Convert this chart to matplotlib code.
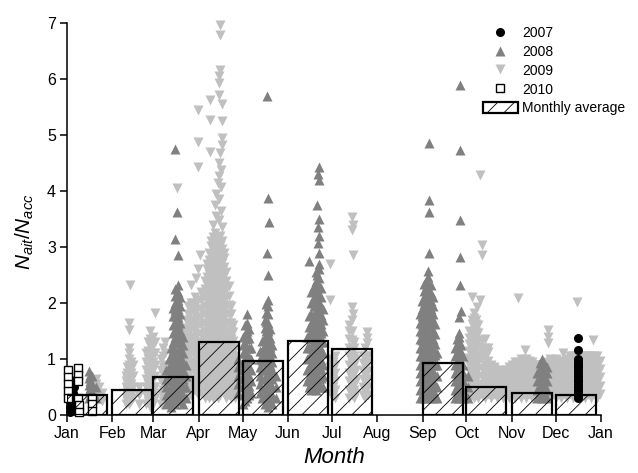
import matplotlib
matplotlib.use("Agg")
import matplotlib.pyplot as plt
from matplotlib.lines import Line2D
from matplotlib.patches import Patch

plt.rcParams['font.family'] = ['Liberation Sans', 'DejaVu Sans']
plt.rcParams['mathtext.fontset'] = 'custom'
plt.rcParams['mathtext.rm'] = 'Liberation Sans'
plt.rcParams['mathtext.it'] = 'Liberation Sans:italic'
plt.rcParams['hatch.linewidth'] = 0.6

# ---------------- data ----------------
month_labels = ['Jan', 'Feb', 'Mar', 'Apr', 'May', 'Jun', 'Jul', 'Aug',
                'Sep', 'Oct', 'Nov', 'Dec', 'Jan']
month_start = [0, 31, 59, 90, 120, 151, 181, 212, 243, 273, 304, 334, 365]

# monthly averages (bar start day, value)
avg_start = [0, 31, 59, 90, 120, 151, 181, 243, 273, 304, 334]
avg_value = [0.35, 0.45, 0.67, 1.30, 0.97, 1.33, 1.17, 0.92, 0.50, 0.40, 0.35]

# (day of year, N_ait/N_acc)
pts_2007 = [
    (2, 0.05), (2, 0.15), (2, 0.25), (2, 0.35), (2, 0.45), (2, 0.55), (3, 0.62),
    (4, 0.10), (4, 0.20), (4, 0.30), (4, 0.40), (5, 0.50), (5, 0.58),
    (349, 0.30), (349, 0.35), (349, 0.40), (349, 0.45), (349, 0.50), (349, 0.55),
    (349, 0.60), (349, 0.65), (349, 0.70), (349, 0.75), (349, 0.80), (349, 0.85),
    (349, 0.90), (349, 0.95), (349, 1.00), (349, 1.16), (349, 1.37),
]

pts_2008 = [
    (15, 0.30), (15, 0.42), (15, 0.54), (15, 0.66), (15, 0.78),
    (16, 0.36), (16, 0.48), (16, 0.60), (16, 0.72),
    (17, 0.25), (17, 0.40), (17, 0.55), (17, 0.70),
    (20, 0.30), (20, 0.50),
    (68, 0.20), (68, 0.35), (68, 0.50), (68, 0.65), (68, 0.80),
    (69.5, 0.25), (69.5, 0.45), (69.5, 0.65), (69.5, 0.85), (69.5, 1.00),
    (71, 0.15), (71, 0.30), (71, 0.45), (71, 0.60), (71, 0.75), (71, 0.90), (71, 1.05), (71, 1.20),
    (72.5, 0.26), (72.5, 0.41), (72.5, 0.56), (72.5, 0.71), (72.5, 0.86), (72.5, 1.01), (72.5, 1.16),
    (72.5, 1.31), (72.5, 1.46), (72.5, 1.61), (72.5, 1.76), (72.5, 1.91),
    (74, 0.20), (74, 0.32), (74, 0.44), (74, 0.56), (74, 0.68), (74, 0.80), (74, 0.92), (74, 1.04),
    (74, 1.16), (74, 1.28), (74, 1.40), (74, 1.52), (74, 1.64), (74, 1.76), (74, 1.88), (74, 2.00),
    (74, 2.12), (74, 2.25),
    (76, 0.25), (76, 0.40), (76, 0.55), (76, 0.70), (76, 0.85), (76, 1.00), (76, 1.15), (76, 1.30),
    (76, 1.45), (76, 1.60), (76, 1.75), (76, 1.90), (76, 2.05), (76, 2.20), (76, 2.32),
    (77.5, 0.30), (77.5, 0.45), (77.5, 0.60), (77.5, 0.75), (77.5, 0.90), (77.5, 1.05), (77.5, 1.20),
    (77.5, 1.35), (77.5, 1.50), (77.5, 1.65), (77.5, 1.80), (77.5, 1.95), (77.5, 2.10),
    (79, 0.20), (79, 0.35), (79, 0.50), (79, 0.65), (79, 0.80), (79, 0.95), (79, 1.10), (79, 1.25), (79, 1.40),
    (81, 0.30), (81, 0.50), (81, 0.70), (81, 0.90),
    (73.5, 4.75), (75.5, 3.62), (74, 3.15), (76, 2.85),
    (117, 0.40), (117, 0.55), (117, 0.70), (117, 0.85), (117, 1.00),
    (120, 0.20), (120, 0.35), (120, 0.50), (120, 0.65), (120, 0.80), (120, 0.95), (120, 1.10), (120, 1.25), (120, 1.40),
    (121.5, 0.25), (121.5, 0.42), (121.5, 0.59), (121.5, 0.76), (121.5, 0.93), (121.5, 1.10), (121.5, 1.27),
    (121.5, 1.44), (121.5, 1.60),
    (123, 0.30), (123, 0.45), (123, 0.60), (123, 0.75), (123, 0.90), (123, 1.05), (123, 1.20), (123, 1.35),
    (123, 1.50), (123, 1.65), (123, 1.80),
    (124.5, 0.35), (124.5, 0.52), (124.5, 0.69), (124.5, 0.86), (124.5, 1.03), (124.5, 1.20), (124.5, 1.37),
    (124.5, 1.54),
    (126, 0.40), (126, 0.60), (126, 0.80), (126, 1.00), (126, 1.20),
    (132, 0.40), (132, 0.55), (132, 0.70), (132, 0.85), (132, 1.00), (132, 1.15),
    (133.5, 0.30), (133.5, 0.47), (133.5, 0.64), (133.5, 0.81), (133.5, 0.98), (133.5, 1.15), (133.5, 1.32),
    (135, 0.20), (135, 0.35), (135, 0.50), (135, 0.65), (135, 0.80), (135, 0.95), (135, 1.10), (135, 1.25),
    (135, 1.40), (135, 1.55), (135, 1.70),
    (136.3, 0.22), (136.3, 0.38), (136.3, 0.54), (136.3, 0.70), (136.3, 0.86), (136.3, 1.02), (136.3, 1.18),
    (136.3, 1.34), (136.3, 1.50), (136.3, 1.66), (136.3, 1.82), (136.3, 1.98),
    (137.5, 0.15), (137.5, 0.30), (137.5, 0.45), (137.5, 0.60), (137.5, 0.75), (137.5, 0.90), (137.5, 1.05),
    (137.5, 1.20), (137.5, 1.35), (137.5, 1.50), (137.5, 1.65), (137.5, 1.80), (137.5, 1.95), (137.5, 2.05),
    (139, 0.25), (139, 0.41), (139, 0.57), (139, 0.73), (139, 0.89), (139, 1.05), (139, 1.21), (139, 1.37),
    (139, 1.53),
    (140, 0.20), (140, 0.35), (140, 0.50), (140, 0.65), (140, 0.80), (140, 0.95), (140, 1.10), (140, 1.25),
    (143, 0.30), (143, 0.50), (143, 0.70),
    (137.5, 2.50), (137, 2.90), (138, 3.45), (137.5, 3.87), (137, 5.70),
    (164, 0.60), (164, 0.80), (164, 1.00), (164, 1.20), (164, 1.40),
    (165.5, 0.50), (165.5, 0.68), (165.5, 0.86), (165.5, 1.04), (165.5, 1.22), (165.5, 1.40), (165.5, 1.58),
    (165.5, 1.76),
    (167, 0.45), (167, 0.60), (167, 0.75), (167, 0.90), (167, 1.05), (167, 1.20), (167, 1.35), (167, 1.50),
    (167, 1.65), (167, 1.80), (167, 2.00), (167, 2.20),
    (168.5, 0.50), (168.5, 0.66), (168.5, 0.82), (168.5, 0.98), (168.5, 1.14), (168.5, 1.30), (168.5, 1.46),
    (168.5, 1.62), (168.5, 1.78), (168.5, 1.94), (168.5, 2.10), (168.5, 2.30),
    (170, 0.45), (170, 0.60), (170, 0.75), (170, 0.90), (170, 1.05), (170, 1.20), (170, 1.35), (170, 1.50),
    (170, 1.65), (170, 1.80), (170, 1.95), (170, 2.10), (170, 2.25), (170, 2.40), (170, 2.55),
    (171, 0.55), (171, 0.70), (171, 0.85), (171, 1.00), (171, 1.15), (171, 1.30), (171, 1.45), (171, 1.60),
    (171, 1.75), (171, 1.90), (171, 2.05), (171, 2.20), (171, 2.35), (171, 2.50),
    (172, 0.50), (172, 0.65), (172, 0.80), (172, 0.95), (172, 1.10), (172, 1.25), (172, 1.40), (172, 1.55),
    (172, 1.70), (172, 1.85), (172, 2.00), (172, 2.15), (172, 2.30), (172, 2.45), (172, 2.60), (172, 2.70),
    (173.5, 0.50), (173.5, 0.66), (173.5, 0.82), (173.5, 0.98), (173.5, 1.14), (173.5, 1.30), (173.5, 1.46),
    (173.5, 1.62), (173.5, 1.78), (173.5, 1.94), (173.5, 2.10), (173.5, 2.26),
    (175, 0.50), (175, 0.70), (175, 0.90), (175, 1.10), (175, 1.30), (175, 1.50), (175, 1.70), (175, 1.90),
    (165.5, 2.75), (172, 2.90), (171.5, 3.07), (172, 3.20), (171.5, 3.35), (172, 3.50), (171, 3.75),
    (172, 4.20), (171.5, 4.30), (172, 4.42),
    (241, 0.30), (241, 0.45), (241, 0.60), (241, 0.75), (241, 0.90), (241, 1.05), (241, 1.20), (241, 1.35),
    (241, 1.50), (241, 1.65), (241, 1.80),
    (242.5, 0.36), (242.5, 0.50), (242.5, 0.64), (242.5, 0.78), (242.5, 0.92), (242.5, 1.06), (242.5, 1.20),
    (242.5, 1.34), (242.5, 1.48), (242.5, 1.62), (242.5, 1.76), (242.5, 1.90), (242.5, 2.04),
    (244, 0.30), (244, 0.42), (244, 0.54), (244, 0.66), (244, 0.78), (244, 0.90), (244, 1.02), (244, 1.14),
    (244, 1.26), (244, 1.38), (244, 1.50), (244, 1.62), (244, 1.74), (244, 1.86), (244, 1.98), (244, 2.10),
    (244, 2.22), (244, 2.34),
    (245.5, 0.36), (245.5, 0.48), (245.5, 0.60), (245.5, 0.72), (245.5, 0.84), (245.5, 0.96), (245.5, 1.08),
    (245.5, 1.20), (245.5, 1.32), (245.5, 1.44), (245.5, 1.56), (245.5, 1.68), (245.5, 1.80), (245.5, 1.92),
    (245.5, 2.04), (245.5, 2.16), (245.5, 2.28), (245.5, 2.40),
    (247, 0.30), (247, 0.42), (247, 0.54), (247, 0.66), (247, 0.78), (247, 0.90), (247, 1.02), (247, 1.14),
    (247, 1.26), (247, 1.38), (247, 1.50), (247, 1.62), (247, 1.74), (247, 1.86), (247, 1.98), (247, 2.10),
    (247, 2.22), (247, 2.34), (247, 2.46), (247, 2.58),
    (248.5, 0.36), (248.5, 0.50), (248.5, 0.64), (248.5, 0.78), (248.5, 0.92), (248.5, 1.06), (248.5, 1.20),
    (248.5, 1.34), (248.5, 1.48), (248.5, 1.62), (248.5, 1.76), (248.5, 1.90), (248.5, 2.04), (248.5, 2.18),
    (248.5, 2.32),
    (250, 0.30), (250, 0.45), (250, 0.60), (250, 0.75), (250, 0.90), (250, 1.05), (250, 1.20), (250, 1.35),
    (250, 1.50), (250, 1.65), (250, 1.80), (250, 1.95), (250, 2.10),
    (251.5, 0.36), (251.5, 0.54), (251.5, 0.72), (251.5, 0.90), (251.5, 1.08), (251.5, 1.26), (251.5, 1.44),
    (251.5, 1.62),
    (253, 0.30), (253, 0.50), (253, 0.70), (253, 0.90), (253, 1.10),
    (247.5, 2.90), (247.5, 3.63), (247.5, 3.84), (247.5, 4.85),
    (265, 0.30), (265, 0.45), (265, 0.60), (265, 0.75), (265, 0.90), (265, 1.05), (265, 1.20),
    (266.5, 0.35), (266.5, 0.50), (266.5, 0.65), (266.5, 0.80), (266.5, 0.95), (266.5, 1.10), (266.5, 1.25),
    (266.5, 1.35),
    (268, 0.30), (268, 0.40), (268, 0.50), (268, 0.60), (268, 0.70), (268, 0.80), (268, 0.90), (268, 1.00),
    (268, 1.10), (268, 1.20), (268, 1.30), (268, 1.40), (268, 1.46),
    (269.5, 0.35), (269.5, 0.50), (269.5, 0.65), (269.5, 0.80), (269.5, 0.95), (269.5, 1.10), (269.5, 1.25),
    (271, 0.30), (271, 0.45), (271, 0.60), (271, 0.75), (271, 0.90), (271, 1.05),
    (274, 0.30), (274, 0.50), (274, 0.70),
    (268, 1.75), (269.5, 1.85), (268.5, 2.32), (268.5, 2.82), (268.5, 3.48), (268.5, 4.73), (268.5, 5.90),
    (321, 0.30), (321, 0.45), (321, 0.60), (321, 0.75),
    (323, 0.36), (323, 0.50), (323, 0.64), (323, 0.78), (323, 0.92),
    (325, 0.30), (325, 0.42), (325, 0.54), (325, 0.66), (325, 0.78), (325, 0.90), (325, 1.00),
    (326.5, 0.36), (326.5, 0.50), (326.5, 0.64), (326.5, 0.78), (326.5, 0.90),
    (328, 0.30), (328, 0.45), (328, 0.60), (328, 0.75), (328, 0.85),
]

pts_2009 = [
    (20, 0.25), (20, 0.35), (20, 0.45), (20, 0.55), (20, 0.65),
    (22, 0.30), (22, 0.50), (24, 0.25), (24, 0.40),
    (40, 0.20), (40, 0.30), (40, 0.40), (40, 0.50), (40, 0.60), (40, 0.70),
    (41.2, 0.25), (41.2, 0.35), (41.2, 0.45), (41.2, 0.55), (41.2, 0.65), (41.2, 0.75), (41.2, 0.85),
    (42.5, 0.20), (42.5, 0.30), (42.5, 0.40), (42.5, 0.50), (42.5, 0.60), (42.5, 0.70), (42.5, 0.80),
    (42.5, 0.90), (42.5, 1.00), (42.5, 1.10), (42.5, 1.20),
    (43.8, 0.25), (43.8, 0.35), (43.8, 0.45), (43.8, 0.55), (43.8, 0.65), (43.8, 0.75), (43.8, 0.85),
    (43.8, 0.95),
    (45, 0.30), (45, 0.50), (45, 0.70), (45, 0.90),
    (42.5, 1.52), (42.5, 1.65), (43, 2.32),
    (49, 0.20), (49, 0.35), (49, 0.50),
    (54, 0.20), (54, 0.35), (54, 0.50), (54, 0.65), (54, 0.80), (54, 0.95), (54, 1.10),
    (55.5, 0.25), (55.5, 0.40), (55.5, 0.55), (55.5, 0.70), (55.5, 0.85), (55.5, 1.00), (55.5, 1.15),
    (55.5, 1.30),
    (57, 0.15), (57, 0.27), (57, 0.39), (57, 0.51), (57, 0.63), (57, 0.75), (57, 0.87), (57, 0.99),
    (57, 1.11), (57, 1.23), (57, 1.35), (57, 1.50),
    (58.5, 0.20), (58.5, 0.35), (58.5, 0.50), (58.5, 0.65), (58.5, 0.80), (58.5, 0.95), (58.5, 1.10),
    (58.5, 1.25), (58.5, 1.40),
    (60, 0.30), (60, 0.50), (60, 0.70), (60, 0.90), (60, 1.10), (60, 1.30), (60, 1.82),
    (64, 0.20), (64, 0.40), (64, 0.60), (64, 0.80), (64, 1.00),
    (65.5, 0.25), (65.5, 0.45), (65.5, 0.65), (65.5, 0.85), (65.5, 1.05), (65.5, 1.20),
    (67, 0.30), (67, 0.50), (67, 0.70), (67, 0.90), (67, 1.10), (67, 1.30),
    (70, 0.20), (70, 0.40), (70, 0.60),
    (80, 0.30), (80, 0.50), (80, 0.70), (80, 0.90), (80, 1.10), (80, 1.30), (80, 1.50),
    (81.5, 0.35), (81.5, 0.50), (81.5, 0.65), (81.5, 0.80), (81.5, 0.95), (81.5, 1.10), (81.5, 1.25),
    (81.5, 1.40), (81.5, 1.55), (81.5, 1.70),
    (83, 0.30), (83, 0.45), (83, 0.60), (83, 0.75), (83, 0.90), (83, 1.05), (83, 1.20), (83, 1.35),
    (83, 1.50), (83, 1.65), (83, 1.80), (83, 1.95),
    (84.5, 0.35), (84.5, 0.50), (84.5, 0.65), (84.5, 0.80), (84.5, 0.95), (84.5, 1.10), (84.5, 1.25),
    (84.5, 1.40), (84.5, 1.55), (84.5, 1.70), (84.5, 1.85), (84.5, 2.00),
    (86, 0.50), (86, 0.65), (86, 0.80), (86, 0.95), (86, 1.10), (86, 1.25), (86, 1.40), (86, 1.55),
    (86, 1.70), (86, 1.85), (86, 2.00),
    (87.5, 0.45), (87.5, 0.60), (87.5, 0.75), (87.5, 0.90), (87.5, 1.05), (87.5, 1.20), (87.5, 1.35),
    (87.5, 1.50), (87.5, 1.65), (87.5, 1.80), (87.5, 1.95), (87.5, 2.10),
    (89, 0.40), (89, 0.55), (89, 0.70), (89, 0.85), (89, 1.00), (89, 1.15), (89, 1.30), (89, 1.45),
    (89, 1.60), (89, 1.75), (89, 1.90), (89, 2.05),
    (91.5, 0.40), (91.5, 0.55), (91.5, 0.70), (91.5, 0.85), (91.5, 1.00), (91.5, 1.15), (91.5, 1.30),
    (91.5, 1.45), (91.5, 1.60), (91.5, 1.75), (91.5, 1.90), (91.5, 2.05), (91.5, 2.20),
    (85, 2.32), (88, 2.45), (89.5, 2.60), (91, 2.85), (75.5, 4.05), (89.5, 4.43), (89.5, 4.88), (89.5, 5.45),
    (94, 0.30), (94, 0.45), (94, 0.60), (94, 0.75), (94, 0.90), (94, 1.05), (94, 1.20), (94, 1.35),
    (94, 1.50), (94, 1.65), (94, 1.80), (94, 1.95), (94, 2.10), (94, 2.25), (94, 2.40),
    (95.5, 0.36), (95.5, 0.50), (95.5, 0.64), (95.5, 0.78), (95.5, 0.92), (95.5, 1.06), (95.5, 1.20),
    (95.5, 1.34), (95.5, 1.48), (95.5, 1.62), (95.5, 1.76), (95.5, 1.90), (95.5, 2.04), (95.5, 2.18),
    (95.5, 2.32), (95.5, 2.46), (95.5, 2.60), (95.5, 2.70),
    (97, 0.30), (97, 0.43), (97, 0.56), (97, 0.69), (97, 0.82), (97, 0.95), (97, 1.08), (97, 1.21),
    (97, 1.34), (97, 1.47), (97, 1.60), (97, 1.73), (97, 1.86), (97, 1.99), (97, 2.12), (97, 2.25),
    (97, 2.38), (97, 2.51), (97, 2.64), (97, 2.77), (97, 2.90),
    (98.5, 0.36), (98.5, 0.50), (98.5, 0.64), (98.5, 0.78), (98.5, 0.92), (98.5, 1.06), (98.5, 1.20),
    (98.5, 1.34), (98.5, 1.48), (98.5, 1.62), (98.5, 1.76), (98.5, 1.90), (98.5, 2.04), (98.5, 2.18),
    (98.5, 2.32), (98.5, 2.46), (98.5, 2.60), (98.5, 2.74), (98.5, 2.88), (98.5, 3.02), (98.5, 3.10),
    (100, 0.30), (100, 0.42), (100, 0.54), (100, 0.66), (100, 0.78), (100, 0.90), (100, 1.02), (100, 1.14),
    (100, 1.26), (100, 1.38), (100, 1.50), (100, 1.62), (100, 1.74), (100, 1.86), (100, 1.98), (100, 2.10),
    (100, 2.22), (100, 2.34), (100, 2.46), (100, 2.58), (100, 2.70), (100, 2.82), (100, 2.94), (100, 3.06),
    (100, 3.18),
    (101.5, 0.36), (101.5, 0.50), (101.5, 0.64), (101.5, 0.78), (101.5, 0.92), (101.5, 1.06), (101.5, 1.20),
    (101.5, 1.34), (101.5, 1.48), (101.5, 1.62), (101.5, 1.76), (101.5, 1.90), (101.5, 2.04), (101.5, 2.18),
    (101.5, 2.32), (101.5, 2.46), (101.5, 2.60), (101.5, 2.74), (101.5, 2.88), (101.5, 3.02), (101.5, 3.16),
    (101.5, 3.25),
    (103, 0.30), (103, 0.42), (103, 0.54), (103, 0.66), (103, 0.78), (103, 0.90), (103, 1.02), (103, 1.14),
    (103, 1.26), (103, 1.38), (103, 1.50), (103, 1.62), (103, 1.74), (103, 1.86), (103, 1.98), (103, 2.10),
    (103, 2.22), (103, 2.34), (103, 2.46), (103, 2.58), (103, 2.70), (103, 2.82), (103, 2.94), (103, 3.06),
    (103, 3.18),
    (104.5, 0.36), (104.5, 0.50), (104.5, 0.64), (104.5, 0.78), (104.5, 0.92), (104.5, 1.06), (104.5, 1.20),
    (104.5, 1.34), (104.5, 1.48), (104.5, 1.62), (104.5, 1.76), (104.5, 1.90), (104.5, 2.04), (104.5, 2.18),
    (104.5, 2.32), (104.5, 2.46), (104.5, 2.60), (104.5, 2.74), (104.5, 2.88), (104.5, 3.02), (104.5, 3.20),
    (106, 0.50), (106, 0.63), (106, 0.76), (106, 0.89), (106, 1.02), (106, 1.15), (106, 1.28), (106, 1.41),
    (106, 1.54), (106, 1.67), (106, 1.80), (106, 1.93), (106, 2.06), (106, 2.19), (106, 2.32), (106, 2.45),
    (106, 2.58), (106, 2.71), (106, 2.84), (106, 2.97), (106, 3.10),
    (107.5, 0.40), (107.5, 0.55), (107.5, 0.70), (107.5, 0.85), (107.5, 1.00), (107.5, 1.15), (107.5, 1.30),
    (107.5, 1.45), (107.5, 1.60), (107.5, 1.75), (107.5, 1.90), (107.5, 2.05), (107.5, 2.20), (107.5, 2.35),
    (107.5, 2.50), (107.5, 2.65), (107.5, 2.80), (107.5, 2.90),
    (109, 0.30), (109, 0.45), (109, 0.60), (109, 0.75), (109, 0.90), (109, 1.05), (109, 1.20), (109, 1.35),
    (109, 1.50), (109, 1.65), (109, 1.80), (109, 1.95), (109, 2.10), (109, 2.25), (109, 2.40), (109, 2.55),
    (110.5, 0.36), (110.5, 0.52), (110.5, 0.68), (110.5, 0.84), (110.5, 1.00), (110.5, 1.16), (110.5, 1.32),
    (110.5, 1.48), (110.5, 1.64), (110.5, 1.80), (110.5, 1.96), (110.5, 2.12), (110.5, 2.30),
    (112, 0.30), (112, 0.45), (112, 0.60), (112, 0.75), (112, 0.90), (112, 1.05), (112, 1.20), (112, 1.35),
    (112, 1.50), (112, 1.65), (112, 1.80), (112, 1.95),
    (113.5, 0.36), (113.5, 0.52), (113.5, 0.68), (113.5, 0.84), (113.5, 1.00), (113.5, 1.16), (113.5, 1.32),
    (113.5, 1.48), (113.5, 1.60),
    (115, 0.30), (115, 0.45), (115, 0.60), (115, 0.75), (115, 0.90), (115, 1.05), (115, 1.20),
    (104.5, 6.96), (104.5, 6.79), (104.5, 6.16), (104, 6.05), (104, 5.93), (104, 5.71), (98, 5.63),
    (106, 5.55), (98, 5.27), (106, 5.25), (106, 4.95), (106, 4.82), (98, 4.70), (104.5, 4.68), (104, 4.50),
    (105, 4.38), (104, 4.26), (103, 4.14), (105, 4.07), (102, 3.95), (104, 3.85), (101, 3.75), (105, 3.65),
    (102, 3.55), (104, 3.48), (100, 3.40), (106, 3.35),
    (180, 0.40), (180, 0.55), (180, 0.70), (180, 0.85), (180, 1.00), (180, 2.05), (180, 2.70),
    (181.5, 0.35), (181.5, 0.50), (181.5, 0.65), (181.5, 0.80), (181.5, 0.95),
    (183, 0.30), (183, 0.45), (183, 0.60), (183, 0.75), (183, 0.90), (183, 1.05),
    (193, 0.30), (193, 0.45), (193, 0.60), (193, 0.75), (193, 0.90), (193, 1.05), (193, 1.20), (193, 1.35),
    (193, 1.50), (193, 1.60),
    (194.5, 0.36), (194.5, 0.50), (194.5, 0.64), (194.5, 0.78), (194.5, 0.92), (194.5, 1.06), (194.5, 1.20),
    (194.5, 1.34), (194.5, 1.50),
    (196, 0.30), (196, 0.45), (196, 0.60), (196, 0.75), (196, 0.90), (196, 1.05), (196, 1.20), (196, 1.30),
    (197.5, 0.40), (197.5, 0.60), (197.5, 0.80), (197.5, 1.00),
    (195, 1.70), (195.5, 1.80), (195, 1.93), (195.5, 2.86), (195, 3.30), (195.5, 3.40), (195, 3.53),
    (202.5, 0.36), (202.5, 0.50), (202.5, 0.64), (202.5, 0.78), (202.5, 0.92), (202.5, 1.06),
    (204, 0.30), (204, 0.45), (204, 0.60), (204, 0.75), (204, 0.90), (204, 1.05), (204, 1.20),
    (205.5, 0.36), (205.5, 0.50), (205.5, 0.64), (205.5, 0.78), (205.5, 0.92), (205.5, 1.06),
    (205, 1.28), (205, 1.38), (205, 1.48),
    (275, 0.30), (275, 0.42), (275, 0.54), (275, 0.66), (275, 0.78), (275, 0.90), (275, 1.02), (275, 1.14),
    (275, 1.26), (275, 1.38), (275, 1.50),
    (276.5, 0.36), (276.5, 0.50), (276.5, 0.64), (276.5, 0.78), (276.5, 0.92), (276.5, 1.06), (276.5, 1.20),
    (276.5, 1.34), (276.5, 1.48), (276.5, 1.62), (276.5, 1.70),
    (278, 0.30), (278, 0.42), (278, 0.54), (278, 0.66), (278, 0.78), (278, 0.90), (278, 1.02), (278, 1.14),
    (278, 1.26), (278, 1.38), (278, 1.50), (278, 1.62), (278, 1.74), (278, 1.82),
    (279.5, 0.36), (279.5, 0.50), (279.5, 0.64), (279.5, 0.78), (279.5, 0.92), (279.5, 1.06), (279.5, 1.20),
    (279.5, 1.34), (279.5, 1.48), (279.5, 1.62), (279.5, 1.70),
    (281, 0.30), (281, 0.43), (281, 0.56), (281, 0.69), (281, 0.82), (281, 0.95), (281, 1.08), (281, 1.21),
    (281, 1.34), (281, 1.47), (281, 1.60),
    (280, 1.93), (282, 2.05), (277, 2.10), (283.7, 2.85), (283.7, 3.03), (282, 4.28),
    (284, 0.36), (284, 0.52), (284, 0.68), (284, 0.84), (284, 1.00), (284, 1.16), (284, 1.32),
    (286, 0.30), (286, 0.45), (286, 0.60), (286, 0.75), (286, 0.90), (286, 1.05), (286, 1.20), (286, 1.35),
    (288, 0.37), (288, 0.52), (288, 0.67), (288, 0.82), (288, 0.97), (288, 1.12), (288, 1.20),
    (290, 0.30), (290, 0.45), (290, 0.60), (290, 0.75), (290, 0.90),
    (292, 0.37), (292, 0.52), (292, 0.67), (292, 0.82), (292, 0.85),
    (294, 0.30), (294, 0.45), (294, 0.60), (294, 0.75),
    (296, 0.37), (296, 0.52), (296, 0.67), (296, 0.80),
    (298, 0.30), (298, 0.45), (298, 0.60), (298, 0.75),
    (300, 0.37), (300, 0.52), (300, 0.67), (300, 0.80),
    (302, 0.30), (302, 0.45), (302, 0.60), (302, 0.75), (302, 0.85),
    (304, 0.37), (304, 0.52), (304, 0.67), (304, 0.82), (304, 0.90),
    (306, 0.30), (306, 0.45), (306, 0.60), (306, 0.75), (306, 0.90), (306, 0.95),
    (308, 0.37), (308, 0.52), (308, 0.67), (308, 0.82), (308, 0.95),
    (310, 0.30), (310, 0.45), (310, 0.60), (310, 0.75), (310, 0.90), (310, 1.00),
    (312, 0.37), (312, 0.52), (312, 0.67), (312, 0.82), (312, 0.97),
    (314, 0.30), (314, 0.45), (314, 0.60), (314, 0.75), (314, 0.90), (314, 1.00),
    (316, 0.37), (316, 0.52), (316, 0.67), (316, 0.82), (316, 0.97),
    (318, 0.30), (318, 0.45), (318, 0.60), (318, 0.75), (318, 0.90), (318, 0.95),
    (320, 0.37), (320, 0.52), (320, 0.67), (320, 0.82), (320, 0.90),
    (322, 0.30), (322, 0.45), (322, 0.60), (322, 0.75), (322, 0.90),
    (324, 0.37), (324, 0.52), (324, 0.67), (324, 0.82), (324, 0.90),
    (326, 0.30), (326, 0.45), (326, 0.60), (326, 0.75), (326, 0.90),
    (328, 0.37), (328, 0.52), (328, 0.67), (328, 0.82), (328, 0.95),
    (330, 0.30), (330, 0.45), (330, 0.60), (330, 0.75), (330, 0.90), (330, 1.00),
    (332, 0.37), (332, 0.52), (332, 0.67), (332, 0.82), (332, 0.97),
    (334, 0.30), (334, 0.45), (334, 0.60), (334, 0.75), (334, 0.90), (334, 1.00),
    (336, 0.37), (336, 0.52), (336, 0.67), (336, 0.82), (336, 0.97),
    (338, 0.30), (338, 0.45), (338, 0.60), (338, 0.75), (338, 0.90), (338, 0.95),
    (340, 0.37), (340, 0.52), (340, 0.67), (340, 0.82), (340, 0.97),
    (342, 0.30), (342, 0.45), (342, 0.60), (342, 0.75), (342, 0.90), (342, 1.00),
    (344, 0.37), (344, 0.52), (344, 0.67), (344, 0.82), (344, 0.97), (344, 1.05),
    (346, 0.30), (346, 0.45), (346, 0.60), (346, 0.75), (346, 0.90), (346, 1.05),
    (348, 0.37), (348, 0.52), (348, 0.67), (348, 0.82), (348, 0.97), (348, 1.05),
    (350, 0.30), (350, 0.45), (350, 0.60), (350, 0.75), (350, 0.90), (350, 1.05),
    (352, 0.37), (352, 0.52), (352, 0.67), (352, 0.82), (352, 0.97), (352, 1.05),
    (354, 0.30), (354, 0.45), (354, 0.60), (354, 0.75), (354, 0.90), (354, 1.05),
    (356, 0.37), (356, 0.52), (356, 0.67), (356, 0.82), (356, 0.97), (356, 1.05),
    (358, 0.30), (358, 0.45), (358, 0.60), (358, 0.75), (358, 0.90), (358, 1.05),
    (360, 0.37), (360, 0.52), (360, 0.67), (360, 0.82), (360, 0.97), (360, 1.05),
    (362, 0.30), (362, 0.45), (362, 0.60), (362, 0.75), (362, 0.90), (362, 1.05),
    (364, 0.37), (364, 0.52), (364, 0.67), (364, 0.82), (364, 0.97),
    (308, 2.09), (313, 1.16), (329, 1.52), (329, 1.40), (329, 1.28), (348.5, 2.02), (359.5, 1.34), (339, 1.10),
]

pts_2010 = [
    (1, 0.80), (1, 0.68), (1, 0.55), (1, 0.42), (1, 0.30),
    (7.5, 0.84), (7.5, 0.72), (7.5, 0.60), (7.5, 0.30), (8, 0.18), (8, 0.06),
    (17, 0.30), (17, 0.20), (17, 0.08),
]

# ---------------- figure ----------------
fig = plt.figure(figsize=(6.38, 4.73), dpi=100)
ax = fig.add_axes([67 / 638, 1 - 415 / 473, (601 - 67) / 638, (415 - 23) / 473])

c08 = '#808080'
c09 = '#c0c0c0'

x, y = zip(*pts_2009)
ax.plot(x, y, linestyle='none', marker='v', ms=7, color=c09, mec='none', zorder=2, clip_on=False)
x, y = zip(*pts_2008)
ax.plot(x, y, linestyle='none', marker='^', ms=7, color=c08, mec='none', zorder=3, clip_on=False)
x, y = zip(*pts_2007)
ax.plot(x, y, linestyle='none', marker='o', ms=6.5, color='black', mec='none', zorder=4, clip_on=False)
x, y = zip(*pts_2010)
ax.plot(x, y, linestyle='none', marker='s', ms=5.5, mfc='white', mec='black', mew=1.0, zorder=5, clip_on=False)

ax.bar(avg_start, avg_value, width=27.4, align='edge', facecolor='none',
       edgecolor='black', linewidth=1.6, hatch='//', zorder=6)

ax.set_xlim(0, 365)
ax.set_ylim(0, 7)
ax.set_xticks(month_start)
ax.set_xticklabels(month_labels)
ax.set_yticks(range(0, 8))
for s in ['top', 'right']:
    ax.spines[s].set_visible(False)
for s in ['left', 'bottom']:
    ax.spines[s].set_linewidth(1.1)
ax.tick_params(direction='out', length=5, width=1.1, labelsize=11.5, pad=3)

ax.set_xlabel('Month', fontsize=16, style='italic', labelpad=4)
ax.set_ylabel(r'$N_{ait}/N_{acc}$', fontsize=15)
ax.yaxis.set_label_coords(-0.058, 0.468)

handles = [
    Line2D([], [], linestyle='none', marker='o', ms=6.5, color='black', mec='none'),
    Line2D([], [], linestyle='none', marker='^', ms=7, color=c08, mec='none'),
    Line2D([], [], linestyle='none', marker='v', ms=7, color=c09, mec='none'),
    Line2D([], [], linestyle='none', marker='s', ms=5.5, mfc='white', mec='black', mew=1.0),
    Patch(facecolor='white', edgecolor='black', linewidth=1.6, hatch='//'),
]
labels = ['2007', '2008', '2009', '2010', 'Monthly average']
fig.legend(handles, labels, loc='upper left', bbox_to_anchor=(483 / 638, 1 - 26 / 473),
           frameon=False, fontsize=10, handlelength=2.5, handleheight=0.9,
           handletextpad=0.3, labelspacing=0.35, borderpad=0, borderaxespad=0)

fig.savefig('out.png', dpi=100)
